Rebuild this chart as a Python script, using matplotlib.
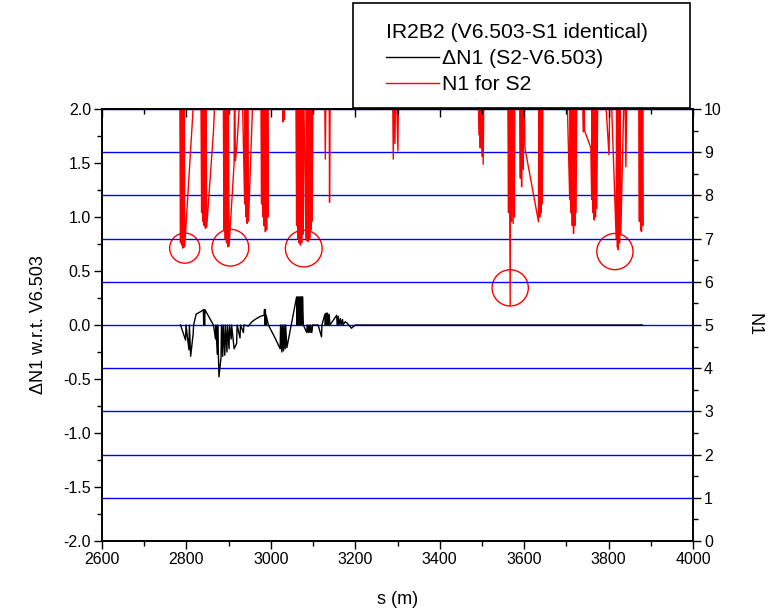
import matplotlib
matplotlib.use('Agg')
import matplotlib.pyplot as plt
from matplotlib.lines import Line2D
from matplotlib.patches import Rectangle
from matplotlib.ticker import MultipleLocator, FormatStrFormatter

plt.rcParams['font.family'] = ['Liberation Sans', 'DejaVu Sans']
plt.rcParams['axes.unicode_minus'] = False

# ─── Data ─────────────────────────────────────────────────────────────────────
# delta N1 (S2 - V6.503), left axis
dn1_s = [2786, 2798, 2799, 2806, 2807, 2810, 2816, 2817, 2823, 2832, 2840, 2841,
         2842, 2843, 2844, 2864, 2869, 2870, 2873, 2874, 2877, 2882, 2883, 2886,
         2887, 2891, 2892, 2896, 2897, 2901, 2902, 2906, 2907, 2913, 2919, 2920,
         2927, 2928, 2935, 2936, 2947, 2955, 2966, 2975, 2984, 2985, 2986, 2987,
         2988, 2989, 2994, 3010, 3022, 3023, 3026, 3027, 3030, 3031, 3034, 3035,
         3038, 3061, 3062, 3064, 3065, 3067, 3068, 3070, 3071, 3073, 3074, 3075,
         3077, 3085, 3086, 3089, 3090, 3093, 3094, 3097, 3099, 3112, 3120, 3121,
         3128, 3129, 3131, 3132, 3134, 3136, 3138, 3140, 3156, 3157, 3160, 3161,
         3165, 3166, 3170, 3171, 3176, 3180, 3191, 3200, 3880]
dn1_v = [0.00, -0.14, 0.00, -0.23, 0.00, -0.29, -0.08, 0.00, 0.10, 0.12, 0.14, 0.00,
         0.14, 0.00, 0.14, 0.00, -0.13, 0.00, -0.27, 0.00, -0.48, -0.30, 0.00, -0.29,
         0.00, -0.28, 0.00, -0.25, 0.00, -0.22, 0.00, -0.13, 0.00, -0.22, -0.17, 0.00,
         -0.12, 0.00, -0.07, 0.00, -0.01, 0.03, 0.06, 0.08, 0.09, 0.145, 0.00, 0.14,
         0.00, 0.09, 0.00, -0.12, -0.22, 0.00, -0.25, 0.00, -0.24, 0.00, -0.22, 0.00,
         -0.21, 0.26, 0.00, 0.26, 0.00, 0.26, 0.00, 0.26, 0.00, 0.26, 0.00, 0.26,
         0.00, -0.07, 0.00, -0.07, 0.00, -0.07, 0.00, -0.07, 0.00, 0.00, -0.11, 0.00,
         0.10, 0.00, 0.11, 0.00, 0.11, 0.00, 0.10, 0.00, 0.09, 0.00, 0.08, 0.00,
         0.06, 0.00, 0.05, 0.00, 0.03, 0.02, -0.03, 0.00, 0.00]

# N1 for S2, right axis (values above 10 are off scale)
n1_s = [2780, 2784, 2786, 2787, 2789, 2790, 2791, 2792, 2794, 2795, 2796, 2822,
        2834, 2836, 2837, 2839, 2840, 2842, 2843, 2845, 2846, 2848, 2864, 2871,
        2887, 2889, 2890, 2892, 2893, 2895, 2896, 2898, 2899, 2901, 2913, 2914,
        2916, 2920, 2931, 2938, 2939, 2941, 2942, 2944, 2945, 2947, 2960,
        2976, 2978, 2979, 2981, 2982, 2984, 2985, 2987, 2988, 2990, 2991, 2993, 2994,
        3027, 3029, 3030, 3032, 3034,
        3059, 3061, 3062, 3064, 3065, 3067, 3068, 3070, 3071, 3073, 3074, 3076,
        3077, 3083, 3084, 3086, 3087, 3089, 3090, 3092, 3093, 3095, 3096, 3098, 3100,
        3127, 3129, 3131, 3138, 3139, 3141,
        3288, 3290, 3292, 3294, 3296, 3301, 3303,
        3490, 3493, 3494, 3496, 3497, 3500, 3501, 3503, 3505,
        3561, 3563, 3564, 3566, 3567, 3568, 3570, 3571, 3574, 3575, 3577, 3578,
        3589, 3591, 3592, 3594, 3595, 3598, 3599, 3602, 3634, 3635, 3637, 3638,
        3640, 3641, 3643, 3645,
        3700, 3708, 3709, 3711, 3712, 3714, 3715, 3717, 3718, 3720, 3721, 3723, 3725,
        3737, 3740, 3741, 3743, 3758, 3760, 3761, 3763, 3764, 3766, 3767, 3769,
        3770, 3772, 3775,
        3788, 3801, 3804, 3818, 3819, 3821, 3822, 3823, 3824, 3826, 3827, 3829,
        3838, 3841, 3844,
        3871, 3873, 3874, 3876, 3877, 3878, 3879, 3881, 3882]
n1_v = [11, 11, 6.9, 11, 6.85, 11, 6.78, 11, 6.8, 11, 6.82, 11,
        11, 7.6, 11, 7.4, 11, 7.3, 11, 7.24, 11, 7.26, 9.47, 11,
        11, 7.2, 11, 7.0, 11, 6.9, 11, 6.81, 11, 6.83, 8.74, 11,
        8.8, 9.2, 11, 7.8, 11, 7.5, 11, 7.35, 11, 7.4, 11,
        11, 7.8, 11, 7.5, 11, 7.3, 11, 7.16, 11, 7.2, 11, 7.5, 11,
        11, 9.7, 11, 9.75, 11,
        11, 7.3, 11, 7.0, 11, 6.9, 11, 6.85, 11, 6.9, 11, 7.1,
        11, 7.0, 11, 6.95, 11, 6.93, 11, 7.0, 11, 7.2, 11, 7.4, 11,
        11, 8.84, 11, 11, 7.84, 11,
        11, 8.84, 11, 9.2, 11, 9.03, 11,
        11, 9.4, 11, 9.1, 11, 8.9, 11, 8.72, 11,
        11, 7.6, 11, 7.4, 5.45, 11, 7.4, 11, 7.35, 11, 7.5, 11,
        11, 8.4, 11, 8.2, 11, 8.6, 11, 9.09, 7.39, 11, 7.5, 11,
        7.6, 11, 7.8, 11,
        11, 7.9, 11, 7.6, 11, 7.3, 11, 7.12, 11, 7.3, 11, 7.6, 11,
        11, 9.47, 11, 9.5, 9.1, 7.9, 11, 7.6, 11, 7.43, 11, 7.5,
        11, 7.7, 11,
        11, 8.94, 11, 7.0, 11, 6.8, 11, 6.74, 11, 6.9, 11, 7.1,
        11, 8.66, 11,
        11, 7.4, 11, 7.2, 11, 7.16, 11, 7.3, 11]

# marked minima (open circles), right-axis coordinates
circ_s = [2796, 2904, 3078, 3567, 3815]
circ_n = [6.78, 6.79, 6.77, 5.86, 6.70]
circ_size = [470, 700, 700, 680, 680]

# ─── Figure ───────────────────────────────────────────────────────────────────
W, H = 769, 612
fig = plt.figure(figsize=(W / 100, H / 100), dpi=100)
ax = fig.add_axes([102 / W, 1 - 541 / H, 591 / W, 432 / H])
ax2 = ax.twinx()
ax.set_zorder(ax2.get_zorder() + 1)
ax.patch.set_visible(False)

# right axis: blue grid + red N1 curve + circles
ax2.set_ylim(0, 10)
ax2.yaxis.set_major_locator(MultipleLocator(1))
ax2.yaxis.set_minor_locator(MultipleLocator(0.5))
ax2.grid(True, axis='y', which='major', color='#0000ff', lw=1)
ax2.plot(n1_s, n1_v, color='#ff0000', lw=1.0)
ax2.scatter(circ_s, circ_n, s=circ_size, facecolors='none', edgecolors='#ff0000', lw=1.0)
ax2.tick_params(axis='y', which='major', direction='out', length=6, width=1,
                labelsize=11.5, pad=2)
ax2.tick_params(axis='y', which='minor', direction='out', length=3.5, width=1)
ax2.set_ylabel('N1', fontsize=13, rotation=270, labelpad=29)

# left axis: delta N1
ax.plot(dn1_s, dn1_v, color='black', lw=1.0)
ax.set_xlim(2600, 4000)
ax.set_ylim(-2.0, 2.0)
ax.xaxis.set_major_locator(MultipleLocator(200))
ax.xaxis.set_minor_locator(MultipleLocator(100))
ax.yaxis.set_major_locator(MultipleLocator(0.5))
ax.yaxis.set_minor_locator(MultipleLocator(0.25))
ax.yaxis.set_major_formatter(FormatStrFormatter('%.1f'))
ax.tick_params(which='major', direction='out', length=6, width=1, labelsize=11.5, pad=2)
ax.tick_params(which='minor', direction='out', length=3.5, width=1)
ax.set_xlabel('s (m)', fontsize=13, labelpad=17)
ax.set_ylabel('ΔN1 w.r.t. V6.503', fontsize=13, labelpad=12)

top = ax.secondary_xaxis('top')
top.xaxis.set_major_locator(MultipleLocator(200))
top.xaxis.set_minor_locator(MultipleLocator(100))
top.tick_params(which='major', direction='in', length=6, width=1, labeltop=False)
top.tick_params(which='minor', direction='in', length=3.5, width=1)

for a in (ax, ax2):
    for sp in a.spines.values():
        sp.set_linewidth(1.2)

# ─── Legend box ───────────────────────────────────────────────────────────────
fig.patches.append(Rectangle((353 / W, 1 - 108 / H), 337 / W, 105 / H,
                             transform=fig.transFigure, fill=False,
                             edgecolor='black', lw=1.2))
handles = [Line2D([], [], color='black', lw=1.0),
           Line2D([], [], color='#ff0000', lw=1.0)]
fig.legend(handles, ['ΔN1 (S2-V6.503)', 'N1 for S2'],
           title='IR2B2 (V6.503-S1 identical)', title_fontsize=15.2,
           fontsize=15.2, loc='upper left', bbox_to_anchor=(386 / W, 1 - 23 / H),
           frameon=False, borderpad=0, borderaxespad=0, alignment='left',
           handlelength=2.5, handletextpad=0.15, labelspacing=0.34)

fig.savefig('out.png', dpi=100)
